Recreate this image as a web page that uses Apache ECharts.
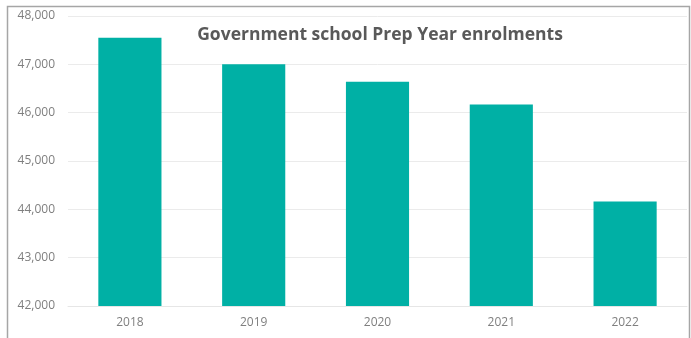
<!DOCTYPE html>
<html>
<head>
<meta charset="utf-8">
<script src="https://cdn.jsdelivr.net/npm/echarts@6/dist/echarts.min.js"></script>
<style>
html,body{margin:0;padding:0;background:#fff;}
#chart{width:691px;height:338px;}
</style>
</head>
<body>
<div id="chart"></div>
<script>
var years = ['2018', '2019', '2020', '2021', '2022'];
var enrolments = [47550, 47000, 46640, 46170, 44160];
var yTicks = [42000, 43000, 44000, 45000, 46000, 47000, 48000];
var chartTitle = 'Government school Prep Year enrolments';

var chart = echarts.init(document.getElementById('chart'), null, {renderer: 'canvas'});
chart.setOption({
  animation: false,
  backgroundColor: '#ffffff',
  graphic: [{
    type: 'rect',
    shape: {x: 7.5, y: 6.5, width: 682, height: 340},
    style: {fill: 'none', stroke: '#a6a6a6', lineWidth: 1.5},
    z: 100
  }],
  title: {
    text: chartTitle,
    left: 375,
    top: 21,
    textAlign: 'center',
    textStyle: {fontFamily: 'Open Sans', fontWeight: 'bold', fontSize: 17.5, color: '#595959'}
  },
  grid: {left: 68, right: 4, top: 16, bottom: 32, containLabel: false},
  xAxis: {
    type: 'category',
    data: years,
    axisLine: {show: true, lineStyle: {color: '#e6e6e6'}},
    axisTick: {show: false},
    axisLabel: {color: '#7f7f7f', fontFamily: 'Open Sans', fontSize: 12, margin: 11}
  },
  yAxis: {
    type: 'value',
    min: yTicks[0],
    max: yTicks[yTicks.length - 1],
    interval: 1000,
    axisLine: {show: false},
    axisTick: {show: false},
    splitLine: {lineStyle: {color: '#ebebeb', width: 1}},
    axisLabel: {
      color: '#7f7f7f', fontFamily: 'Open Sans', fontSize: 12, margin: 13,
      formatter: function (v) { return v.toLocaleString('en-US'); }
    }
  },
  series: [{
    type: 'bar',
    data: enrolments,
    barWidth: '51%',
    itemStyle: {color: '#00b0a5'}
  }]
});
</script>
</body>
</html>
